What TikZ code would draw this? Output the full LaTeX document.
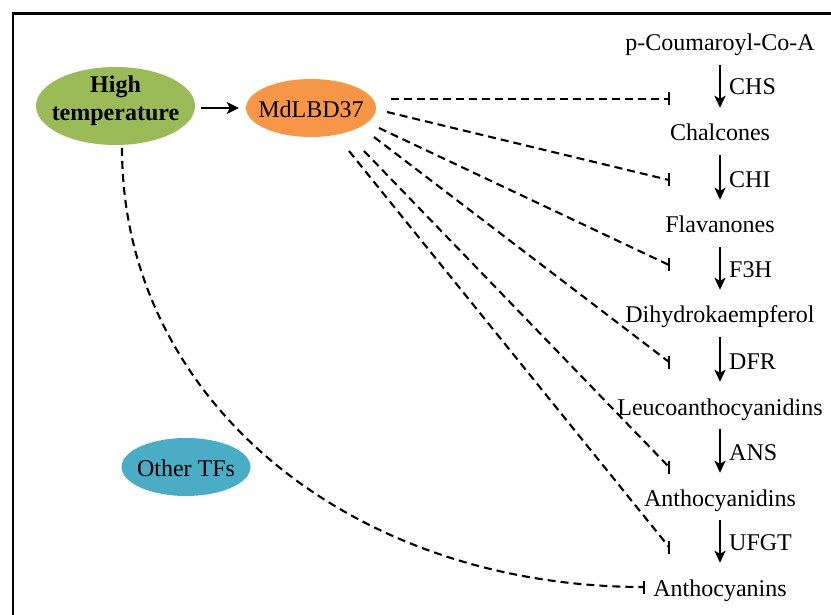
\documentclass[tikz,border=0pt]{standalone}
\usepackage{fontspec}
\setmainfont{Liberation Serif}
\usetikzlibrary{shapes.geometric,arrows.meta}
\definecolor{htgreen}{HTML}{9BBB59}
\definecolor{mdorange}{HTML}{F79646}
\definecolor{tfblue}{HTML}{4BACC6}
\begin{document}
\begin{tikzpicture}[x=1pt,y=-1pt,
  every node/.style={font=\fontsize{24}{28}\selectfont},
  blob/.style={ellipse, inner sep=0pt, draw=none},
  blobtext/.style={inner sep=0pt, align=center},
  cmpd/.style={anchor=base, inner sep=0pt, text height=17pt, text depth=6pt},
  enz/.style={anchor=west, inner sep=0pt},
  pathway/.style={line width=2.7pt, -{Stealth[length=12pt,width=11pt,inset=3pt]}, shorten <=8pt, shorten >=16pt},
  induce/.style={line width=2.8pt, -{Stealth[length=12pt,width=12pt,inset=3pt]}, shorten <=6pt, shorten >=7pt},
  inhib/.style={line width=2.1pt, dash pattern=on 8pt off 5pt},
  tbar/.style={line width=2.1pt}
]
\useasboundingbox (0,0) rectangle (831,615);
\clip (0,0) rectangle (831,615);
\draw[line width=2.5pt] (13,13.5) rectangle (850,640);

% ellipses
\node[blob, fill=htgreen, minimum width=159pt, minimum height=78pt] (ht) at (115.5,106) {};
\node[blobtext, font=\bfseries\fontsize{24}{28}\selectfont] (httext) at (115.5,100.5) {High\\temperature};
\node[blob, fill=mdorange, minimum width=130pt, minimum height=58pt] (md) at (311,108) {};
\node[blobtext] (mdtext) at (311,109) {MdLBD37};
\node[blob, fill=tfblue, minimum width=129pt, minimum height=58pt] (tf) at (186,467) {};
\node[blobtext] (tftext) at (186,468.5) {Other TFs};

\draw[induce] (ht.east |- md.west) -- (md.west);

% pathway
\node[cmpd] (c0) at (720,51) {p-Coumaroyl-Co-A};
\node[cmpd] (c1) at (720,141) {Chalcones};
\node[cmpd] (c2) at (720,233) {Flavanones};
\node[cmpd] (c3) at (720,323) {Dihydrokaempferol};
\node[cmpd] (c4) at (720,415) {Leucoanthocyanidins};
\node[cmpd] (c5) at (720,506) {Anthocyanidins};
\node[cmpd] (c6) at (720,596) {Anthocyanins};

\draw[pathway] (c0.south) -- (c1.north);
\draw[pathway] (c1.south) -- (c2.north);
\draw[pathway] (c2.south) -- (c3.north);
\draw[pathway] (c3.south) -- (c4.north);
\draw[pathway] (c4.south) -- (c5.north);
\draw[pathway] (c5.south) -- (c6.north);

\node[enz] (e1) at (729,87) {CHS};
\node[enz] (e2) at (729,180) {CHI};
\node[enz] (e3) at (729,270) {F3H};
\node[enz] (e4) at (729,362) {DFR};
\node[enz] (e5) at (729,453) {ANS};
\node[enz] (e6) at (729,543) {UFGT};

% inhibition lines
\coordinate (s1) at (391,99);  \coordinate (b1) at (669,99);
\coordinate (s2) at (387,112); \coordinate (b2) at (669,180);
\coordinate (s3) at (379,128); \coordinate (b3) at (669,265);
\coordinate (s4) at (374,137); \coordinate (b4) at (669,362);
\coordinate (s5) at (364,151); \coordinate (b5) at (669,467);
\coordinate (s6) at (349,151); \coordinate (b6) at (669,547);
\coordinate (s7) at (122,148); \coordinate (b7) at (644,587);

\foreach \i in {1,...,6} {
  \draw[inhib] (s\i) -- (b\i);
  \draw[tbar] ([yshift=6.5pt]b\i) -- ([yshift=-6.5pt]b\i);
}
\draw[inhib] (s7) .. controls (122,400) and (350,587) .. (b7);
\draw[tbar] ([yshift=6.5pt]b7) -- ([yshift=-6.5pt]b7);
\end{tikzpicture}
\end{document}
